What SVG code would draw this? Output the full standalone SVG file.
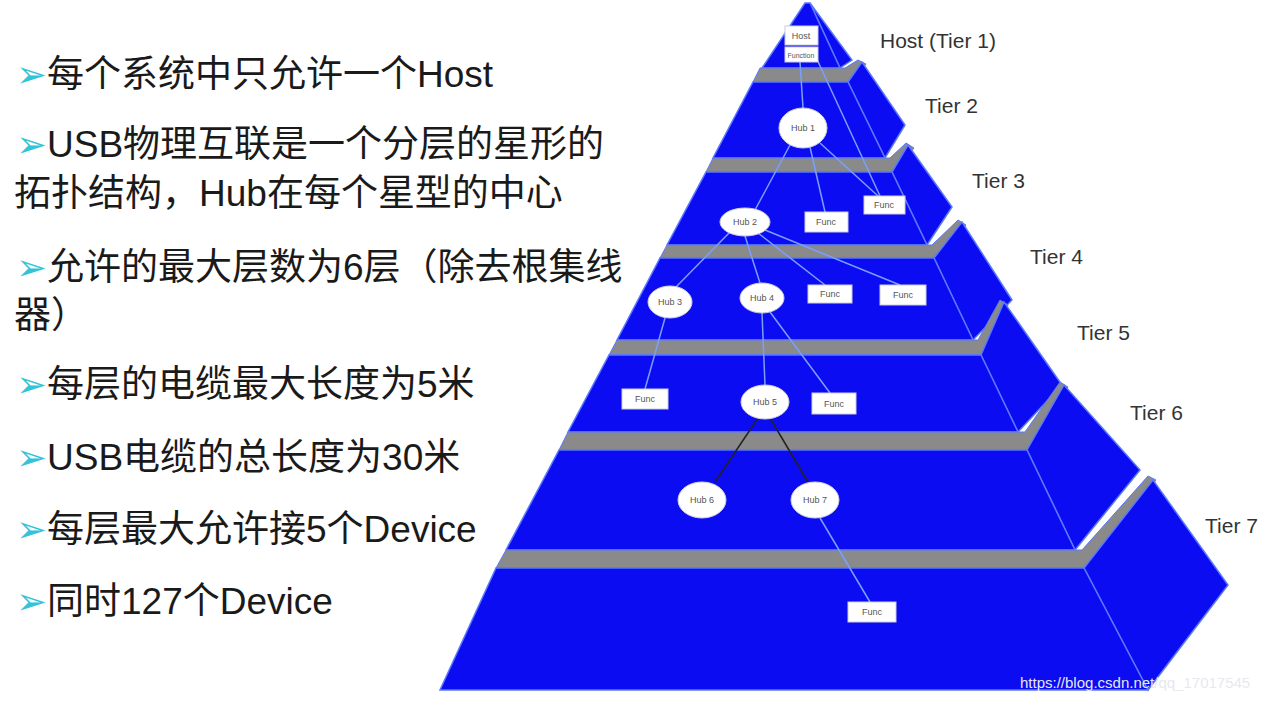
<svg xmlns="http://www.w3.org/2000/svg" width="1274" height="701" viewBox="0 0 1274 701">
<style>
.b{fill:#0c0cf2;stroke:#5a78ff;stroke-width:1.5}
.g{fill:#8a8a8a;stroke:#5a78ff;stroke-width:1}
.t{font-family:"Liberation Sans","Noto Sans CJK SC",sans-serif;font-size:37px;fill:#1a1a1a}
.ar{fill:#33c4d8}
.tl{font-family:"Liberation Sans",sans-serif;font-size:21px;fill:#333}
.n{fill:#fff;stroke:#ccd;stroke-width:1}
.nt{font-family:"Liberation Sans",sans-serif;font-size:9px;fill:#555;text-anchor:middle}
.c line{stroke:#7aa0ff;stroke-width:1.5}
.c line.d{stroke:#222}
</style>
<rect width="1274" height="701" fill="#fff"/>
<g id="pyramid">
<polygon class="b" points="810,3 852,60 840,68"/>
<polygon class="b" points="805,3 810,3 840,68 762,68"/>
<polygon class="g" points="760,68 845,68 858,60 866,64 852,82 753,82"/>
<polygon class="b" points="848,82 862,62 905,125 885,158"/>
<polygon class="b" points="753,82 848,82 885,158 713,158"/>
<polygon class="g" points="713,158 890,158 906,143 914,148 895,172 706,172"/>
<polygon class="b" points="892,172 908,145 952,207 927,245"/>
<polygon class="b" points="706,172 892,172 927,245 667,245"/>
<polygon class="g" points="667,245 932,245 958,220 966,225 938,258 660,258"/>
<polygon class="b" points="934,258 962,222 1012,300 973,340"/>
<polygon class="b" points="660,258 934,258 973,340 617,340"/>
<polygon class="g" points="617,340 978,340 1000,300 1008,305 985,355 609,355"/>
<polygon class="b" points="981,355 1004,302 1062,385 1018,432"/>
<polygon class="b" points="609,355 981,355 1018,432 568,432"/>
<polygon class="g" points="568,432 1025,432 1060,382 1068,387 1032,450 559,450"/>
<polygon class="b" points="1027,450 1064,385 1140,470 1075,550"/>
<polygon class="b" points="559,450 1027,450 1075,550 506,550"/>
<polygon class="g" points="506,550 1082,550 1148,476 1156,480 1090,568 496,568"/>
<polygon class="b" points="1084,568 1153,480 1228,585 1148,690"/>
<polygon class="b" points="496,568 1084,568 1148,690 440,690"/>
</g>
<g class="c">
<line x1="800" y1="62" x2="803" y2="108"/>
<line x1="815" y1="55" x2="880" y2="196"/>
<line x1="790" y1="145" x2="755" y2="210"/>
<line x1="810" y1="147" x2="825" y2="212"/>
<line x1="820" y1="143" x2="878" y2="196"/>
<line x1="730" y1="232" x2="675" y2="288"/>
<line x1="745" y1="236" x2="760" y2="283"/>
<line x1="758" y1="233" x2="825" y2="285"/>
<line x1="765" y1="230" x2="900" y2="285"/>
<line x1="665" y1="318" x2="645" y2="389"/>
<line x1="762" y1="313" x2="765" y2="385"/>
<line x1="770" y1="312" x2="830" y2="393"/>
<line class="d" x1="758" y1="418" x2="715" y2="482"/>
<line class="d" x1="770" y1="418" x2="808" y2="482"/>
<line x1="820" y1="518" x2="870" y2="602"/>
</g>
<g id="host"><rect class="n" x="785" y="26" width="33" height="19"/><text class="nt" x="801" y="39">Host</text><rect class="n" x="785" y="47" width="33" height="15"/><text class="nt" x="801" y="58" style="font-size:7px">Function</text></g>
<g id="hub1"><ellipse class="n" cx="803" cy="128" rx="24" ry="20"/><text class="nt" x="803" y="131">Hub 1</text></g>
<g id="f3a"><rect class="n" x="805" y="212" width="43" height="20"/><text class="nt" x="826" y="225">Func</text></g>
<g id="f3b"><rect class="n" x="864" y="196" width="41" height="18"/><text class="nt" x="884" y="208">Func</text></g>
<g id="hub2"><ellipse class="n" cx="745" cy="222" rx="25" ry="14"/><text class="nt" x="745" y="225">Hub 2</text></g>
<g id="hub3"><ellipse class="n" cx="670" cy="302" rx="22" ry="16"/><text class="nt" x="670" y="305">Hub 3</text></g>
<g id="hub4"><ellipse class="n" cx="762" cy="298" rx="22" ry="15"/><text class="nt" x="762" y="301">Hub 4</text></g>
<g id="f4a"><rect class="n" x="808" y="285" width="44" height="18"/><text class="nt" x="830" y="297">Func</text></g>
<g id="f4b"><rect class="n" x="880" y="285" width="46" height="20"/><text class="nt" x="903" y="298">Func</text></g>
<g id="f5a"><rect class="n" x="622" y="389" width="46" height="20"/><text class="nt" x="645" y="402">Func</text></g>
<g id="hub5"><ellipse class="n" cx="765" cy="402" rx="24" ry="17"/><text class="nt" x="765" y="405">Hub 5</text></g>
<g id="f5b"><rect class="n" x="812" y="393" width="44" height="21"/><text class="nt" x="834" y="407">Func</text></g>
<g id="hub6"><ellipse class="n" cx="702" cy="500" rx="24" ry="18"/><text class="nt" x="702" y="503">Hub 6</text></g>
<g id="hub7"><ellipse class="n" cx="815" cy="500" rx="24" ry="18"/><text class="nt" x="815" y="503">Hub 7</text></g>
<g id="f7"><rect class="n" x="848" y="602" width="48" height="20"/><text class="nt" x="872" y="615">Func</text></g>
<g id="tiers">
<text class="tl" x="880" y="48">Host (Tier 1)</text>
<text class="tl" x="925" y="113">Tier 2</text>
<text class="tl" x="972" y="188">Tier 3</text>
<text class="tl" x="1030" y="264">Tier 4</text>
<text class="tl" x="1077" y="340">Tier 5</text>
<text class="tl" x="1130" y="420">Tier 6</text>
<text class="tl" x="1205" y="533">Tier 7</text>
</g>
<g id="bullets">
<text class="t" x="16" y="87"><tspan class="ar">➢</tspan>每个系统中只允许一个Host</text>
<text class="t" x="16" y="157"><tspan class="ar">➢</tspan>USB物理互联是一个分层的星形的</text>
<text class="t" x="14" y="206">拓扑结构，Hub在每个星型的中心</text>
<text class="t" x="16" y="280"><tspan class="ar">➢</tspan>允许的最大层数为6层（除去根集线</text>
<text class="t" x="14" y="328">器）</text>
<text class="t" x="16" y="397"><tspan class="ar">➢</tspan>每层的电缆最大长度为5米</text>
<text class="t" x="16" y="470"><tspan class="ar">➢</tspan>USB电缆的总长度为30米</text>
<text class="t" x="16" y="542"><tspan class="ar">➢</tspan>每层最大允许接5个Device</text>
<text class="t" x="16" y="614"><tspan class="ar">➢</tspan>同时127个Device</text>
</g>
<text x="1020" y="688" style="font-family:'Liberation Sans',sans-serif;font-size:15px;fill:#e8e8f0">https://blog.csdn.net/qq_17017545</text>
</svg>
